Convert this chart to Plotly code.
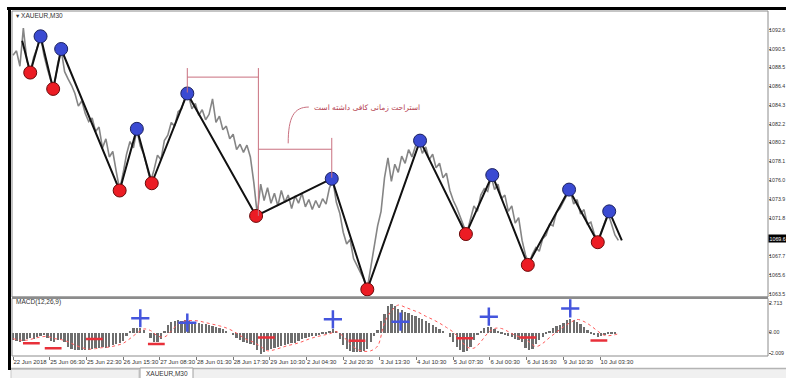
import plotly.graph_objects as go

# ---------------- data ----------------
date_labels = ["22 Jun 2018", "25 Jun 06:30", "25 Jun 22:30", "26 Jun 15:30", "27 Jun 08:30",
               "28 Jun 01:30", "28 Jun 17:30", "29 Jun 10:30", "2 Jul 04:30", "2 Jul 20:30",
               "3 Jul 13:30", "4 Jul 10:30", "5 Jul 07:30", "6 Jul 00:30", "6 Jul 16:30",
               "9 Jul 10:30", "10 Jul 03:30"]
date_tick_bars = [0, 32, 64, 96, 128, 160, 192, 224, 256, 288, 320, 352, 384, 416, 448, 480, 512]

price_ticks = [1092.6, 1090.5, 1088.5, 1086.4, 1084.3, 1082.2, 1080.2, 1078.1, 1076.0,
               1073.9, 1071.8, 1067.7, 1065.6, 1063.5]

# closing prices, every 3rd M30 bar
close = [
    1089.8, 1090.3, 1088.6, 1092.8, 1089.3, 1087.9, 1089.6, 1090.6, 1091.9, 1089.8,
    1088.3, 1087.0, 1086.4, 1088.9, 1090.4, 1088.0, 1087.2, 1086.5, 1085.6, 1084.2,
    1084.8, 1083.4, 1082.5, 1082.9, 1081.4, 1081.9, 1079.6, 1080.6, 1078.6, 1079.2,
    1077.0, 1075.0, 1076.8, 1078.9, 1080.3, 1079.6, 1081.6, 1079.8, 1078.9, 1077.3,
    1075.9, 1077.2, 1078.8, 1078.3, 1080.4, 1081.0, 1082.4, 1082.0, 1083.6, 1083.9,
    1085.2, 1085.4, 1083.9, 1084.5, 1083.2, 1083.8, 1082.7, 1083.3, 1085.0, 1082.4,
    1083.1, 1081.6, 1082.0, 1080.6, 1081.1, 1079.4, 1080.0, 1079.1, 1079.9, 1078.6,
    1075.8, 1072.3, 1075.6, 1073.8, 1075.2, 1073.5, 1074.6, 1073.2, 1074.9, 1073.6,
    1074.4, 1072.9, 1074.3, 1073.5, 1074.6, 1073.1, 1073.9, 1072.8, 1073.8, 1073.0,
    1074.0, 1073.4, 1075.2, 1076.0, 1073.6, 1072.4, 1070.3, 1069.0, 1069.5, 1067.4,
    1066.6, 1065.8, 1065.1, 1064.1, 1066.3, 1068.5, 1071.0, 1072.6, 1076.3, 1078.5,
    1075.9, 1077.8, 1076.9, 1078.7, 1077.9, 1079.4, 1078.6, 1079.8, 1080.3, 1079.0,
    1079.7, 1078.3, 1078.9, 1077.4, 1077.9, 1076.3, 1076.8, 1074.9, 1073.8, 1073.0,
    1071.9, 1071.0, 1070.3, 1071.8, 1073.2, 1072.6, 1074.4, 1075.1, 1074.8, 1076.5,
    1075.0, 1075.6, 1074.0, 1074.4, 1072.6, 1073.2, 1071.3, 1071.9, 1069.4, 1067.8,
    1066.8, 1067.9, 1068.6, 1068.2, 1069.6, 1070.0, 1071.2, 1071.0, 1072.5, 1072.9,
    1073.6, 1074.4, 1074.9, 1073.4, 1073.9, 1072.3, 1072.8, 1071.2, 1071.4, 1070.1,
    1069.3, 1070.4, 1071.5, 1072.4, 1071.2, 1070.0, 1069.4,
]
bar_idx = list(range(0, 3 * len(close), 3))
current_price = 1069.6

# zigzag turning points
zz_bar = [8, 15, 24, 35, 42, 93, 108, 121, 152, 212, 278, 309, 355, 395, 418, 449, 485, 510, 520, 531]
zz_price = [1091.4, 1087.9, 1091.9, 1086.1, 1090.5, 1074.9, 1081.7, 1075.7, 1085.6, 1072.1,
            1076.2, 1064.0, 1080.4, 1070.1, 1076.6, 1066.7, 1075.0, 1069.2, 1072.6, 1069.4]
zz_kind = ["start", "low", "high", "low", "high", "low", "high", "low", "high", "low",
           "high", "low", "high", "low", "high", "low", "high", "low", "high", "end"]

# MACD histogram (every 3rd bar) and signal (every 6th bar)
macd_hist = [
    -0.7, -0.8, -0.9, -0.8, -0.6, -0.5, -0.6, -0.4, -0.3, -0.25,
    -0.5, -0.8, -0.9, -0.7, -0.6, -0.9, -1.3, -1.5, -1.6, -1.6,
    -1.65, -1.6, -1.65, -1.5, -1.4, -1.45, -1.35, -1.4, -1.3, -1.2,
    -1.1, -1.0, -0.8, -0.3, 0.2, 0.4, 0.45, 0.4, 0.3, 0.0,
    -0.5, -0.9, -0.85, -0.6, 0.2, 0.7, 1.0, 1.1, 1.15, 1.1,
    1.15, 1.1, 1.0, 1.05, 0.9, 0.85, 0.8, 0.7, 0.65, 0.55,
    0.45, 0.35, 0.2, 0.0, -0.2, -0.5, -0.7, -0.9, -1.0, -1.1,
    -1.2, -1.6, -2.0, -1.8, -1.6, -1.5, -1.4, -1.3, -1.25, -1.15,
    -1.1, -1.0, -0.95, -0.8, -0.6, -0.5, -0.45, -0.35, -0.3, -0.25,
    -0.15, -0.1, 0.1, 0.35, 0.1, -0.6, -1.2, -1.5, -1.75, -1.8,
    -1.85, -1.8, -1.75, -1.5, -0.9, -0.3, 0.3, 1.1, 1.8, 2.5,
    2.7, 2.5, 2.25, 2.1, 1.95, 1.85, 1.7, 1.55, 1.4, 1.25,
    1.1, 0.95, 0.7, 0.5, 0.35, 0.15, 0.0, -0.4, -0.9, -1.3,
    -1.6, -1.8, -1.75, -1.3, -0.7, -0.2, 0.2, 0.4, 0.5, 0.5,
    0.35, 0.1, -0.1, -0.25, -0.35, -0.45, -0.55, -0.65, -0.9, -1.4,
    -1.65, -1.5, -1.1, -0.7, -0.4, -0.1, 0.2, 0.45, 0.6, 0.75,
    0.95, 1.2, 1.3, 1.2, 1.05, 0.8, 0.55, 0.3, -0.05, -0.25,
    -0.4, -0.35, -0.2, -0.05, -0.1, -0.05, 0.0,
]
macd_signal = [
    -0.6, -0.75, -0.75, -0.6, -0.45, -0.4, -0.6, -0.7, -0.9, -1.2,
    -1.45, -1.6, -1.55, -1.45, -1.4, -1.25, -1.05, -0.6, -0.1, 0.3,
    0.15, -0.35, -0.45, 0.1, 0.8, 1.05, 1.1, 1.05, 0.9, 0.75,
    0.6, 0.4, 0.1, -0.3, -0.7, -0.95, -1.35, -1.75, -1.65, -1.45,
    -1.25, -1.1, -0.9, -0.65, -0.45, -0.3, -0.15, 0.05, -0.4, -1.1,
    -1.6, -1.8, -1.75, -1.3, 0.9, 2.0, 2.55, 2.35, 2.1, 1.85,
    1.5, 1.2, 0.85, 0.45, 0.0, -0.7, -1.4, -1.5, -0.9, -0.1,
    0.35, 0.35, 0.05, -0.3, -0.5, -0.9, -1.35, -1.05, -0.5, 0.0,
    0.5, 0.9, 1.2, 1.0, 0.6, 0.1, -0.3, -0.3, -0.15,
]
signal_idx = list(range(0, 6 * len(macd_signal), 6))
macd_ticks = [2.713, 0.0, -2.009]
macd_ticktext = ["2.713", "0.00", "-2.009"]

buy_bar = [111, 152, 279, 338, 415, 486]
buy_val = [1.31, 0.90, 1.21, 0.99, 1.46, 2.24]
sell_bar = [16, 35, 71, 125, 221, 300, 394, 449, 511]
sell_val = [-1.03, -1.50, -0.63, -1.12, -0.50, -0.81, -0.56, -0.50, -0.79]

note_text = "استراحت زمانی کافی داشته است"

# ---------------- layout helpers ----------------
W, H = 786, 378
ML, MR, MT, MB = 12, 18, 10, 22
PW, PH = W - ML - MR, H - MT - MB


def px(x):
    return (x - ML) / PW


def py(y):
    return (H - MB - y) / PH


FONT = "Liberation Sans, DejaVu Sans, Arial"
XR = [-0.9, 658.5]

fig = go.Figure()

# price
fig.add_trace(go.Scatter(x=bar_idx, y=close, mode="lines",
                         line=dict(color="#858585", width=1.6),
                         xaxis="x", yaxis="y", hoverinfo="skip"))
# zigzag
fig.add_trace(go.Scatter(x=zz_bar, y=zz_price, mode="lines",
                         line=dict(color="#111111", width=2),
                         xaxis="x", yaxis="y"))
hi_x = [b for b, k in zip(zz_bar, zz_kind) if k == "high"]
hi_y = [p for p, k in zip(zz_price, zz_kind) if k == "high"]
lo_x = [b for b, k in zip(zz_bar, zz_kind) if k == "low"]
lo_y = [p for p, k in zip(zz_price, zz_kind) if k == "low"]
fig.add_trace(go.Scatter(x=hi_x, y=hi_y, mode="markers",
                         marker=dict(size=13, color="#3a4ad2", line=dict(color="#1c2260", width=1)),
                         xaxis="x", yaxis="y"))
fig.add_trace(go.Scatter(x=lo_x, y=lo_y, mode="markers",
                         marker=dict(size=13, color="#ec1c24", line=dict(color="#6a0a0a", width=1)),
                         xaxis="x", yaxis="y"))

# MACD
fig.add_trace(go.Bar(x=bar_idx, y=macd_hist, width=2.0,
                     marker=dict(color="#6e6e6e", line=dict(width=0)),
                     xaxis="x2", yaxis="y2"))
fig.add_trace(go.Scatter(x=signal_idx, y=macd_signal, mode="lines",
                         line=dict(color="#ff5a5a", width=1, dash="dot", shape="spline"),
                         xaxis="x2", yaxis="y2"))
fig.add_trace(go.Scatter(x=buy_bar, y=buy_val, mode="markers",
                         marker=dict(symbol="cross-thin", size=13,
                                     line=dict(color="#4455dd", width=2.5)),
                         xaxis="x2", yaxis="y2"))
fig.add_trace(go.Scatter(x=sell_bar, y=sell_val, mode="markers",
                         marker=dict(symbol="line-ew", size=12,
                                     line=dict(color="#e8303a", width=2.5)),
                         xaxis="x2", yaxis="y2"))

ann_col = "#c9707f"
shapes = [
    # rest-period brackets
    dict(type="line", xref="x", yref="y", x0=zz_bar[8], x1=zz_bar[8], y0=1085.7, y1=1088.4,
         line=dict(color=ann_col, width=1)),
    dict(type="line", xref="x", yref="y", x0=zz_bar[8], x1=214, y0=1087.4, y1=1087.4,
         line=dict(color=ann_col, width=1)),
    dict(type="line", xref="x", yref="y", x0=214, x1=214, y0=zz_price[9], y1=1088.4,
         line=dict(color=ann_col, width=1)),
    dict(type="line", xref="x", yref="y", x0=214, x1=zz_bar[10], y0=1079.45, y1=1079.45,
         line=dict(color=ann_col, width=1)),
    dict(type="line", xref="x", yref="y", x0=zz_bar[10], x1=zz_bar[10], y0=1076.3, y1=1080.7,
         line=dict(color=ann_col, width=1)),
    dict(type="path", xref="x", yref="y",
         path="M 240,1080.1 C 240,1083.0 245,1084.1 258,1084.1",
         line=dict(color=ann_col, width=1)),
    # frames
    dict(type="rect", xref="paper", yref="paper", x0=px(11), x1=px(786), y0=py(369), y1=py(378),
         fillcolor="#f0f0f0", line=dict(width=0), layer="below"),
    dict(type="line", xref="paper", yref="paper", x0=px(11), x1=px(786), y0=py(368.5), y1=py(368.5),
         line=dict(color="#b4b4b4", width=1.5)),
    dict(type="rect", xref="paper", yref="paper", x0=px(11), x1=px(139), y0=py(369.5), y1=py(379),
         fillcolor="#f0f0f0", line=dict(color="#c8c8c8", width=1)),
    dict(type="rect", xref="paper", yref="paper", x0=px(140), x1=px(193), y0=py(368), y1=py(379),
         fillcolor="#ffffff", line=dict(color="#a0a0a0", width=1)),
    dict(type="rect", xref="paper", yref="paper", x0=px(12), x1=px(768), y0=py(11), y1=py(297),
         line=dict(color="#8c8c8c", width=1)),
    dict(type="rect", xref="paper", yref="paper", x0=px(12), x1=px(768), y0=py(298.5), y1=py(356),
         line=dict(color="#8c8c8c", width=1)),
    dict(type="line", xref="paper", yref="paper", x0=px(12), x1=px(768), y0=py(297.5), y1=py(297.5),
         line=dict(color="#8c8c8c", width=2)),
    dict(type="line", xref="paper", yref="paper", x0=px(7), x1=px(786), y0=py(8.5), y1=py(8.5),
         line=dict(color="#000000", width=3)),
    dict(type="line", xref="paper", yref="paper", x0=px(9.5), x1=px(9.5), y0=py(7), y1=py(370),
         line=dict(color="#000000", width=3)),
]

annotations = [
    dict(xref="x", yref="y", x=261, y=1084.05, text=note_text, showarrow=False,
         xanchor="left", yanchor="middle", font=dict(family="DejaVu Sans", size=7.5, color="#b4404f")),
    dict(xref="paper", yref="paper", x=px(14), y=py(15), text="▾ XAUEUR,M30", showarrow=False,
         xanchor="left", yanchor="middle", font=dict(family=FONT, size=6.5, color="#333333")),
    dict(xref="paper", yref="paper", x=px(14), y=py(302), text="MACD(12,26,9)", showarrow=False,
         xanchor="left", yanchor="middle", font=dict(family=FONT, size=6.5, color="#333333")),
    dict(xref="paper", yref="y", x=px(768.5), y=current_price, text=f"{current_price:.1f}",
         showarrow=False, xanchor="left", yanchor="middle", bgcolor="#000000", borderpad=0.5,
         font=dict(family=FONT, size=5.3, color="#ffffff")),
    dict(xref="paper", yref="paper", x=px(166.5), y=py(373.5), text="XAUEUR,M30", showarrow=False,
         xanchor="center", yanchor="middle", font=dict(family=FONT, size=6.5, color="#333333")),
]

fig.update_layout(
    template="none",
    width=W, height=H, autosize=False,
    margin=dict(l=ML, r=MR, t=MT, b=MB, pad=0, autoexpand=False),
    paper_bgcolor="#ffffff", plot_bgcolor="#ffffff",
    showlegend=False, bargap=0,
    font=dict(family=FONT, size=6.5, color="#333333"),
    xaxis=dict(domain=[0, 1], anchor="y", range=XR, showticklabels=False, showgrid=False,
               zeroline=False, showline=False, ticks="", automargin=False),
    xaxis2=dict(domain=[0, 1], anchor="y2", range=XR, showgrid=False, zeroline=False,
                showline=False, tickmode="array", tickvals=date_tick_bars, ticktext=date_labels,
                ticks="outside", ticklen=3, tickcolor="#777777", tickangle=0, automargin=False,
                ticklabelposition="outside right", tickfont=dict(size=6, color="#333333")),
    yaxis=dict(domain=[py(297), 1], anchor="x", side="right", automargin=False,
               range=[1063.16, 1094.8], showgrid=False, zeroline=False, showline=False,
               tickmode="array", tickvals=price_ticks, ticktext=[f"{v:.1f}" for v in price_ticks],
               ticks="outside", ticklen=2, tickcolor="#777777", ticklabelstandoff=-3,
               tickfont=dict(family=FONT, size=5.3, color="#333333")),
    yaxis2=dict(domain=[0, py(298.5)], anchor="x2", side="right", automargin=False,
                range=[-2.24, 3.17], showgrid=False, zeroline=False, showline=False,
                tickmode="array", tickvals=macd_ticks, ticktext=macd_ticktext,
                ticks="outside", ticklen=2, tickcolor="#777777", ticklabelstandoff=-3,
                tickfont=dict(family=FONT, size=5.3, color="#333333")),
    shapes=shapes,
    annotations=annotations,
)

fig.write_html("out.html",
               config={"responsive": False, "displayModeBar": False},
               post_script="document.body.style.margin='0';document.body.style.overflow='hidden';")
